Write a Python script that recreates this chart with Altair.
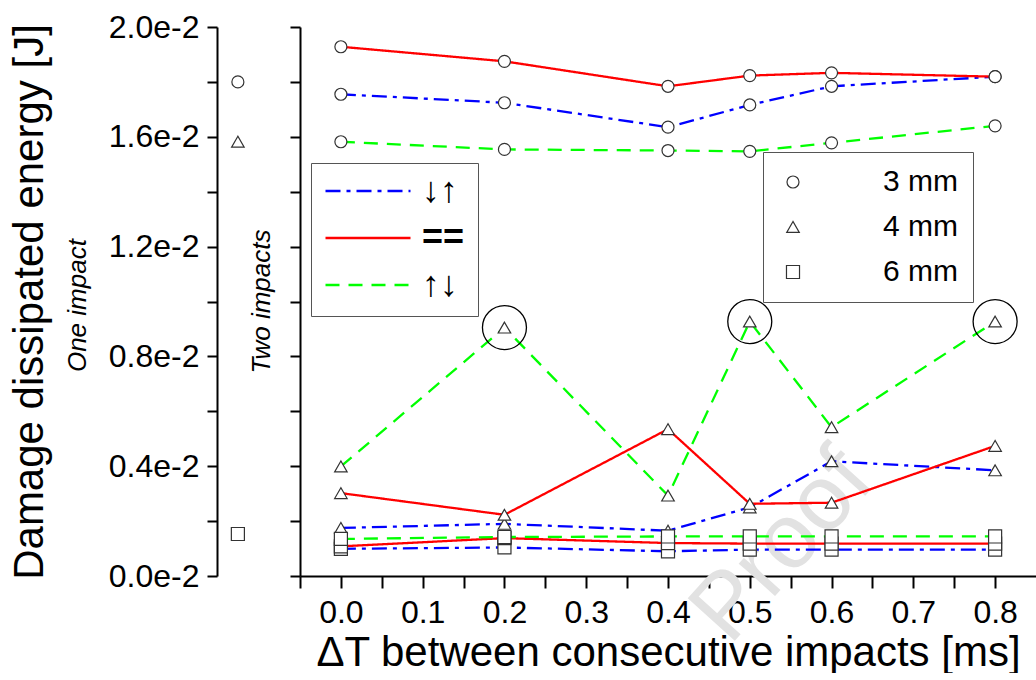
import altair as alt
import pandas as pd

# ---------------- data ----------------
dt_values = [0.0, 0.2, 0.4, 0.5, 0.6, 0.8]
series_names = ["↓↑", "==", "↑↓"]
size_names = ["3 mm", "4 mm", "6 mm"]

# 3 mm (circles)
e3_down_up = [0.01755, 0.01724, 0.01635, 0.01716, 0.01784, 0.01819]
e3_equal = [0.01928, 0.01875, 0.01784, 0.01823, 0.01833, 0.01819]
e3_up_down = [0.01582, 0.01554, 0.01550, 0.01547, 0.01578, 0.01640]
# 4 mm (triangles)
e4_down_up = [0.00175, 0.00190, 0.00165, 0.00250, 0.00418, 0.00385]
e4_equal = [0.00302, 0.00223, 0.00535, 0.00263, 0.00267, 0.00474]
e4_up_down = [0.00399, 0.00905, 0.00293, 0.00927, 0.00542, 0.00927]
# 6 mm (squares)
e6_down_up = [0.00099, 0.00104, 0.00090, 0.00096, 0.00096, 0.00096]
e6_equal = [0.00108, 0.00138, 0.00120, 0.00118, 0.00118, 0.00118]
e6_up_down = [0.00135, 0.00142, 0.00144, 0.00144, 0.00144, 0.00144]

# one impact (left panel)
one_impact_values = [0.01800, 0.01582, 0.00153]
one_impact_pos = [0.29, 0.29, 0.29]

# highlighted points
highlight_dt = [0.2, 0.5, 0.8]
highlight_values = [0.00905, 0.00927, 0.00927]

# annotations
ann_texts = ["One impact", "Two impacts"]
ann_pos = [-1.93, 0.625]
ann_values = [0.00985, 0.0100]

x_ticks = [-0.05, 0.0, 0.05, 0.1, 0.15, 0.2, 0.25, 0.3, 0.35, 0.4,
           0.45, 0.5, 0.55, 0.6, 0.65, 0.7, 0.75, 0.8]
y_ticks = [0.0, 0.002, 0.004, 0.006, 0.008, 0.010, 0.012, 0.014, 0.016, 0.018, 0.020]

colors = ["#0000FF", "#FF0000", "#00FF00"]
dashes = [[15, 6, 4, 6], [1, 0], [14, 9]]
shapes = ["circle", "triangle-up", "square"]
marker_sizes = [144, 170, 110]

FONT = "Liberation Sans"

# ---------------- tables ----------------
table = {
    ("3 mm", "↓↑"): e3_down_up, ("3 mm", "=="): e3_equal, ("3 mm", "↑↓"): e3_up_down,
    ("4 mm", "↓↑"): e4_down_up, ("4 mm", "=="): e4_equal, ("4 mm", "↑↓"): e4_up_down,
    ("6 mm", "↓↑"): e6_down_up, ("6 mm", "=="): e6_equal, ("6 mm", "↑↓"): e6_up_down,
}
rows = []
for (sz, ser), vals in table.items():
    for d, v in zip(dt_values, vals):
        rows.append({"dt": d, "energy": v, "size": sz, "series": ser})
df = pd.DataFrame(rows)

left_df = pd.DataFrame({"pos": one_impact_pos, "energy": one_impact_values, "size": size_names})
ann_df = pd.DataFrame({"pos": ann_pos, "energy": ann_values, "text": ann_texts})
hl_df = pd.DataFrame({"dt": highlight_dt, "energy": highlight_values})
wm_df = pd.DataFrame({"dt": [0.54], "energy": [0.0011], "text": ["Proof"]})

# ---------------- scales ----------------
y_scale = alt.Scale(domain=[0, 0.02], nice=False, zero=False)
x_scale = alt.Scale(domain=[-0.05, 0.85], nice=False, zero=False)
color_scale = alt.Scale(domain=series_names, range=colors)
dash_scale = alt.Scale(domain=series_names, range=dashes)
shape_scale = alt.Scale(domain=size_names, range=shapes)
msize_scale = alt.Scale(domain=size_names, range=marker_sizes)
key_stroke_scale = alt.Scale(domain=size_names, range=["#333", "#333", "#333"])

H = 549

# ---------------- left panel ----------------
left_y = alt.Y(
    "energy:Q", scale=y_scale,
    axis=alt.Axis(
        values=y_ticks,
        labelExpr="abs(datum.value*250 - round(datum.value*250)) < 0.01 ? format(datum.value*100, '.1f') + 'e-2' : ''",
        title="Damage dissipated energy [J]", titleFontSize=42, titleFontWeight="normal",
        titlePadding=57, labelFontSize=32, labelPadding=8, tickSize=10, grid=False,
    ),
)
left_points = alt.Chart(left_df).mark_point(
    filled=True, fill="white", stroke="#333", strokeWidth=1.2, opacity=1
).encode(
    x=alt.X("pos:Q", scale=alt.Scale(domain=[0, 1], nice=False, zero=False), axis=None),
    y=left_y,
    shape=alt.Shape("size:N", scale=shape_scale, legend=None),
    size=alt.Size("size:N", scale=msize_scale, legend=None),
)
left_text = alt.Chart(ann_df).mark_text(
    angle=270, fontStyle="italic", fontSize=26, font=FONT, align="center", baseline="middle", color="black"
).encode(
    x=alt.X("pos:Q", scale=alt.Scale(domain=[0, 1], nice=False, zero=False), axis=None),
    y=alt.Y("energy:Q", scale=y_scale),
    text="text:N",
)
left = alt.layer(left_points, left_text).properties(width=72, height=H)

# ---------------- right panel ----------------
rx = alt.X(
    "dt:Q", scale=x_scale,
    axis=alt.Axis(
        values=x_ticks,
        labelExpr="(datum.value > -0.01 && abs(datum.value*10 - round(datum.value*10)) < 0.01) ? format(datum.value, '.1f') : ''",
        title="ΔT between consecutive impacts [ms]", titleFontSize=42, titleFontWeight="normal",
        titlePadding=4, labelFontSize=32, labelPadding=9, tickSize=12, grid=False, labelFlush=False,
    ),
)
ry = alt.Y("energy:Q", scale=y_scale,
           axis=alt.Axis(values=y_ticks, labels=False, tickSize=10, title=None, grid=False))

watermark = alt.Chart(wm_df).mark_text(
    angle=312, fontSize=92, font=FONT, color="#e2e2e2", align="center", baseline="middle"
).encode(x=alt.X("dt:Q", scale=x_scale), y=alt.Y("energy:Q", scale=y_scale), text="text:N")

line_legend = dict(
    orient="none", legendX=11, legendY=136, title=None, strokeColor="#555", fillColor="white",
    padding=13, symbolType="stroke", symbolSize=7225, symbolStrokeWidth=2.3,
    labelFontSize=36, labelFont=FONT, labelFontWeight="bold", labelColor="black",
    labelOffset=10, rowPadding=11, clipHeight=30,
)
lines = alt.Chart(df).mark_line(strokeWidth=2.3).encode(
    x=rx, y=ry,
    color=alt.Color("series:N", scale=color_scale, legend=alt.Legend(**line_legend)),
    strokeDash=alt.StrokeDash("series:N", scale=dash_scale, legend=alt.Legend(**line_legend)),
    detail="size:N",
)

# marker layer (drawn on top of the lines)
points = alt.Chart(df).mark_point(
    filled=True, fill="white", stroke="#333", strokeWidth=1.2, opacity=1
).encode(
    x=alt.X("dt:Q", scale=x_scale), y=alt.Y("energy:Q", scale=y_scale),
    shape=alt.Shape("size:N", scale=shape_scale, legend=None),
    size=alt.Size("size:N", scale=msize_scale, legend=None),
)

# legend for marker sizes (invisible key layer: shape + stroke merged legend)
size_legend = dict(
    orient="none", legendX=463, legendY=125, title=None,
    strokeColor="#555", fillColor="white", padding=15,
    symbolSize=150, symbolStrokeWidth=1.2, symbolFillColor="white",
    symbolOpacity=1, labelFontSize=30, labelFont=FONT, labelColor="black",
    labelOffset=75, rowPadding=15,
)
size_key = alt.Chart(df).mark_point(filled=False, opacity=0).encode(
    x=alt.X("dt:Q", scale=x_scale), y=alt.Y("energy:Q", scale=y_scale),
    stroke=alt.Stroke("size:N", scale=key_stroke_scale, legend=alt.Legend(**size_legend)),
    shape=alt.Shape("size:N", scale=shape_scale, legend=alt.Legend(**size_legend)),
)

rings = alt.Chart(hl_df).mark_point(
    shape="circle", size=1936, filled=False, stroke="black", strokeWidth=1.3, opacity=1
).encode(x=alt.X("dt:Q", scale=x_scale), y=alt.Y("energy:Q", scale=y_scale))

right = alt.layer(watermark, lines, size_key, points, rings).properties(width=736, height=H)

chart = alt.hconcat(left, right, spacing=0).resolve_scale(
    shape="independent", color="independent", strokeDash="independent",
    size="independent", stroke="independent"
).properties(
    padding={"left": 8, "top": 11, "right": 0, "bottom": 0}
).configure(font=FONT).configure_view(stroke=None).configure_axis(
    labelFont=FONT, titleFont=FONT, labelColor="black", titleColor="black",
    domainColor="black", tickColor="black", domainWidth=2, tickWidth=2, zindex=1,
)

chart.save("out.html", embed_options={"renderer": "svg", "actions": False})
